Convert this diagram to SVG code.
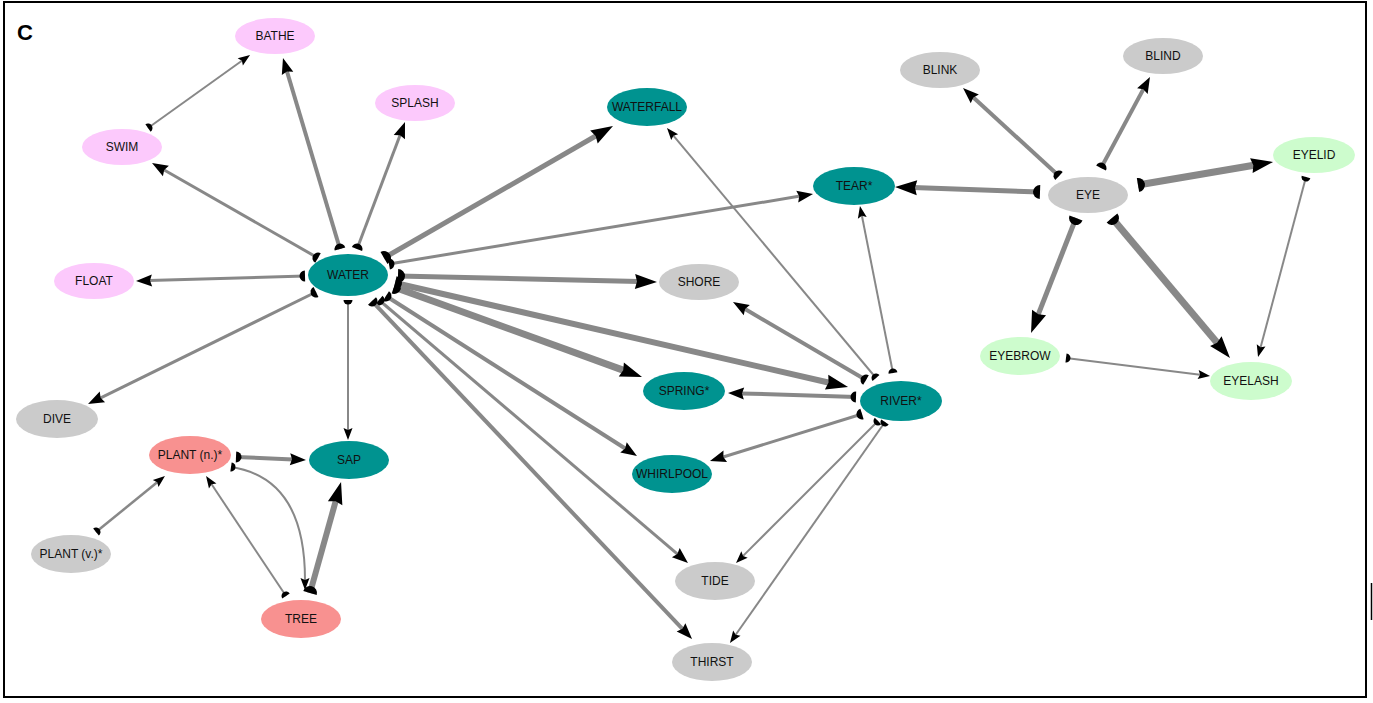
<svg xmlns="http://www.w3.org/2000/svg" width="1373" height="703" viewBox="0 0 1373 703">
<style>
.e{stroke:#888888;fill:none}
.s{stroke-width:2;marker-start:url(#cS);marker-end:url(#aS)}
.s25{stroke-width:2.5;marker-start:url(#cS);marker-end:url(#aS)}
.m3{stroke-width:3;marker-start:url(#cM);marker-end:url(#aM)}
.m4{stroke-width:4;marker-start:url(#cM);marker-end:url(#aM)}
.l5{stroke-width:5;marker-start:url(#cL);marker-end:url(#aL)}
.l6{stroke-width:6;marker-start:url(#cL);marker-end:url(#aL)}
.l7{stroke-width:7;marker-start:url(#cL);marker-end:url(#aL)}
text{font-family:"Liberation Sans",Arial,sans-serif;font-size:12px;fill:#111;text-anchor:middle}
.pk{fill:#fcc9fc}.tl{fill:#009390}.gy{fill:#cbcbcb}.sm{fill:#f89190}.gn{fill:#cdfccd}
</style>
<defs>
<marker id="aS" markerUnits="userSpaceOnUse" markerWidth="14" markerHeight="10" refX="0" refY="0" orient="auto" overflow="visible"><path d="M-2,-4.5 L10,0 L-2,4.5 L0,0 Z" fill="#000"/></marker>
<marker id="aM" markerUnits="userSpaceOnUse" markerWidth="16" markerHeight="12" refX="0" refY="0" orient="auto" overflow="visible"><path d="M-3,-6 L13,0 L-3,6 L-1,0 Z" fill="#000"/></marker>
<marker id="aL" markerUnits="userSpaceOnUse" markerWidth="20" markerHeight="16" refX="0" refY="0" orient="auto" overflow="visible"><path d="M-4,-7.5 L18,0 L-4,7.5 L-2,0 Z" fill="#000"/></marker>
<marker id="cS" markerUnits="userSpaceOnUse" markerWidth="10" markerHeight="10" refX="0" refY="0" orient="auto" overflow="visible"><path d="M0,-4.5 A4.5 4.5 0 0 1 0,4.5 Z" fill="#000"/></marker>
<marker id="cM" markerUnits="userSpaceOnUse" markerWidth="12" markerHeight="12" refX="0" refY="0" orient="auto" overflow="visible"><path d="M0,-5.5 A5.5 5.5 0 0 1 0,5.5 Z" fill="#000"/></marker>
<marker id="cL" markerUnits="userSpaceOnUse" markerWidth="14" markerHeight="14" refX="0" refY="0" orient="auto" overflow="visible"><path d="M0,-7 A7 7 0 0 1 0,7 Z" fill="#000"/></marker>
</defs>
<rect x="4" y="2" width="1362" height="695" fill="#fff" stroke="#000" stroke-width="2"/>
<line x1="1371.5" y1="583" x2="1371.5" y2="620" stroke="#000" stroke-width="1.5"/>
<text x="25" y="40" style="font-size:22px;font-weight:bold;fill:#000">C</text>
<g id="edges">
<path class="e m4" d="M340,249 L286.7,70.5"/>
<path class="e s" d="M148,128 L241.9,60.8"/>
<path class="e m3" d="M318,258 L163.3,169.5"/>
<path class="e m3" d="M357,249 L400.4,134.2"/>
<path class="e m3" d="M305,276 L149,280.6"/>
<path class="e m3" d="M316,292 L99.7,398.3"/>
<path class="e s" d="M348,300 L348,430"/>
<path class="e l5" d="M384,258 L597.4,135"/>
<path class="e m3" d="M389,264 L800.2,196.1"/>
<path class="e l5" d="M398,276 L639,281.6"/>
<path class="e l7" d="M394,287 L625.1,370.9"/>
<path class="e l6" d="M395,283 L830.5,383"/>
<path class="e m4" d="M386,296 L626,449"/>
<path class="e m3" d="M379,300 L678.1,554.6"/>
<path class="e m4" d="M372,301 L683.1,629.6"/>
<path class="e s" d="M876,378 L673.4,135.7"/>
<path class="e s" d="M893,373 L861.9,215.8"/>
<path class="e m4" d="M866,380 L744.2,308.6"/>
<path class="e m4" d="M856,397 L741,393.4"/>
<path class="e m3" d="M862,414 L722.4,457.2"/>
<path class="e s" d="M878,421 L743.1,555.9"/>
<path class="e s" d="M885,422 L735.7,634.8"/>
<path class="e s25" d="M96,532 L157.2,482.3"/>
<path class="e m4" d="M236,457 L293,459.4"/>
<path class="e s" d="M286,596 L211.6,484.3"/>
<path class="e s" d="M231,467 Q305,478 305,580"/>
<path class="e l6" d="M310,593 L336.2,499.3"/>
<path class="e m4" d="M1059,176 L972.6,96.8"/>
<path class="e m4" d="M1101,168 L1143.8,88.4"/>
<path class="e l7" d="M1138,185 L1255.3,165"/>
<path class="e l5" d="M1040,192 L913,187.6"/>
<path class="e l5" d="M1076,218 L1037.6,316.2"/>
<path class="e l7" d="M1112,218 L1218.4,344.2"/>
<path class="e s" d="M1306,177 L1260.6,347.3"/>
<path class="e s" d="M1066,358 L1200.1,374.8"/>
</g>
<g id="bathe"><ellipse class="pk" cx="275" cy="36" rx="40" ry="18"/><text x="275" y="40">BATHE</text></g>
<g id="swim"><ellipse class="pk" cx="122" cy="147" rx="40" ry="18"/><text x="122" y="151">SWIM</text></g>
<g id="splash"><ellipse class="pk" cx="415" cy="103" rx="40" ry="18"/><text x="415" y="107">SPLASH</text></g>
<g id="float"><ellipse class="pk" cx="94" cy="281" rx="40" ry="18"/><text x="94" y="285">FLOAT</text></g>
<g id="dive"><ellipse class="gy" cx="57" cy="419" rx="41" ry="19"/><text x="57" y="423">DIVE</text></g>
<g id="water"><ellipse class="tl" cx="348" cy="275" rx="40" ry="21"/><text x="348" y="279">WATER</text></g>
<g id="waterfall"><ellipse class="tl" cx="647" cy="107" rx="40" ry="19"/><text x="647" y="111">WATERFALL</text></g>
<g id="tear"><ellipse class="tl" cx="854" cy="186" rx="41" ry="19"/><text x="854" y="190">TEAR*</text></g>
<g id="shore"><ellipse class="gy" cx="699" cy="282" rx="40" ry="18"/><text x="699" y="286">SHORE</text></g>
<g id="spring"><ellipse class="tl" cx="684" cy="391" rx="41" ry="19"/><text x="684" y="395">SPRING*</text></g>
<g id="whirlpool"><ellipse class="tl" cx="672" cy="474" rx="40" ry="19"/><text x="672" y="478">WHIRLPOOL</text></g>
<g id="river"><ellipse class="tl" cx="901" cy="401" rx="41" ry="20"/><text x="901" y="405">RIVER*</text></g>
<g id="tide"><ellipse class="gy" cx="715" cy="581" rx="40" ry="19"/><text x="715" y="585">TIDE</text></g>
<g id="thirst"><ellipse class="gy" cx="712" cy="662" rx="40" ry="19"/><text x="712" y="666">THIRST</text></g>
<g id="sap"><ellipse class="tl" cx="349" cy="460" rx="40" ry="19"/><text x="349" y="464">SAP</text></g>
<g id="plant-n"><ellipse class="sm" cx="190" cy="455" rx="41" ry="19"/><text x="190" y="459">PLANT (n.)*</text></g>
<g id="plant-v"><ellipse class="gy" cx="71" cy="554" rx="40" ry="19"/><text x="71" y="558">PLANT (v.)*</text></g>
<g id="tree"><ellipse class="sm" cx="301" cy="619" rx="40" ry="19"/><text x="301" y="623">TREE</text></g>
<g id="eye"><ellipse class="gy" cx="1088" cy="195" rx="40" ry="18"/><text x="1088" y="199">EYE</text></g>
<g id="blink"><ellipse class="gy" cx="940" cy="70" rx="40" ry="18"/><text x="940" y="74">BLINK</text></g>
<g id="blind"><ellipse class="gy" cx="1163" cy="56" rx="40" ry="18"/><text x="1163" y="60">BLIND</text></g>
<g id="eyelid"><ellipse class="gn" cx="1314" cy="155" rx="41" ry="18"/><text x="1314" y="159">EYELID</text></g>
<g id="eyebrow"><ellipse class="gn" cx="1020" cy="356" rx="40" ry="19"/><text x="1020" y="360">EYEBROW</text></g>
<g id="eyelash"><ellipse class="gn" cx="1251" cy="381" rx="41" ry="19"/><text x="1251" y="385">EYELASH</text></g>
</svg>
